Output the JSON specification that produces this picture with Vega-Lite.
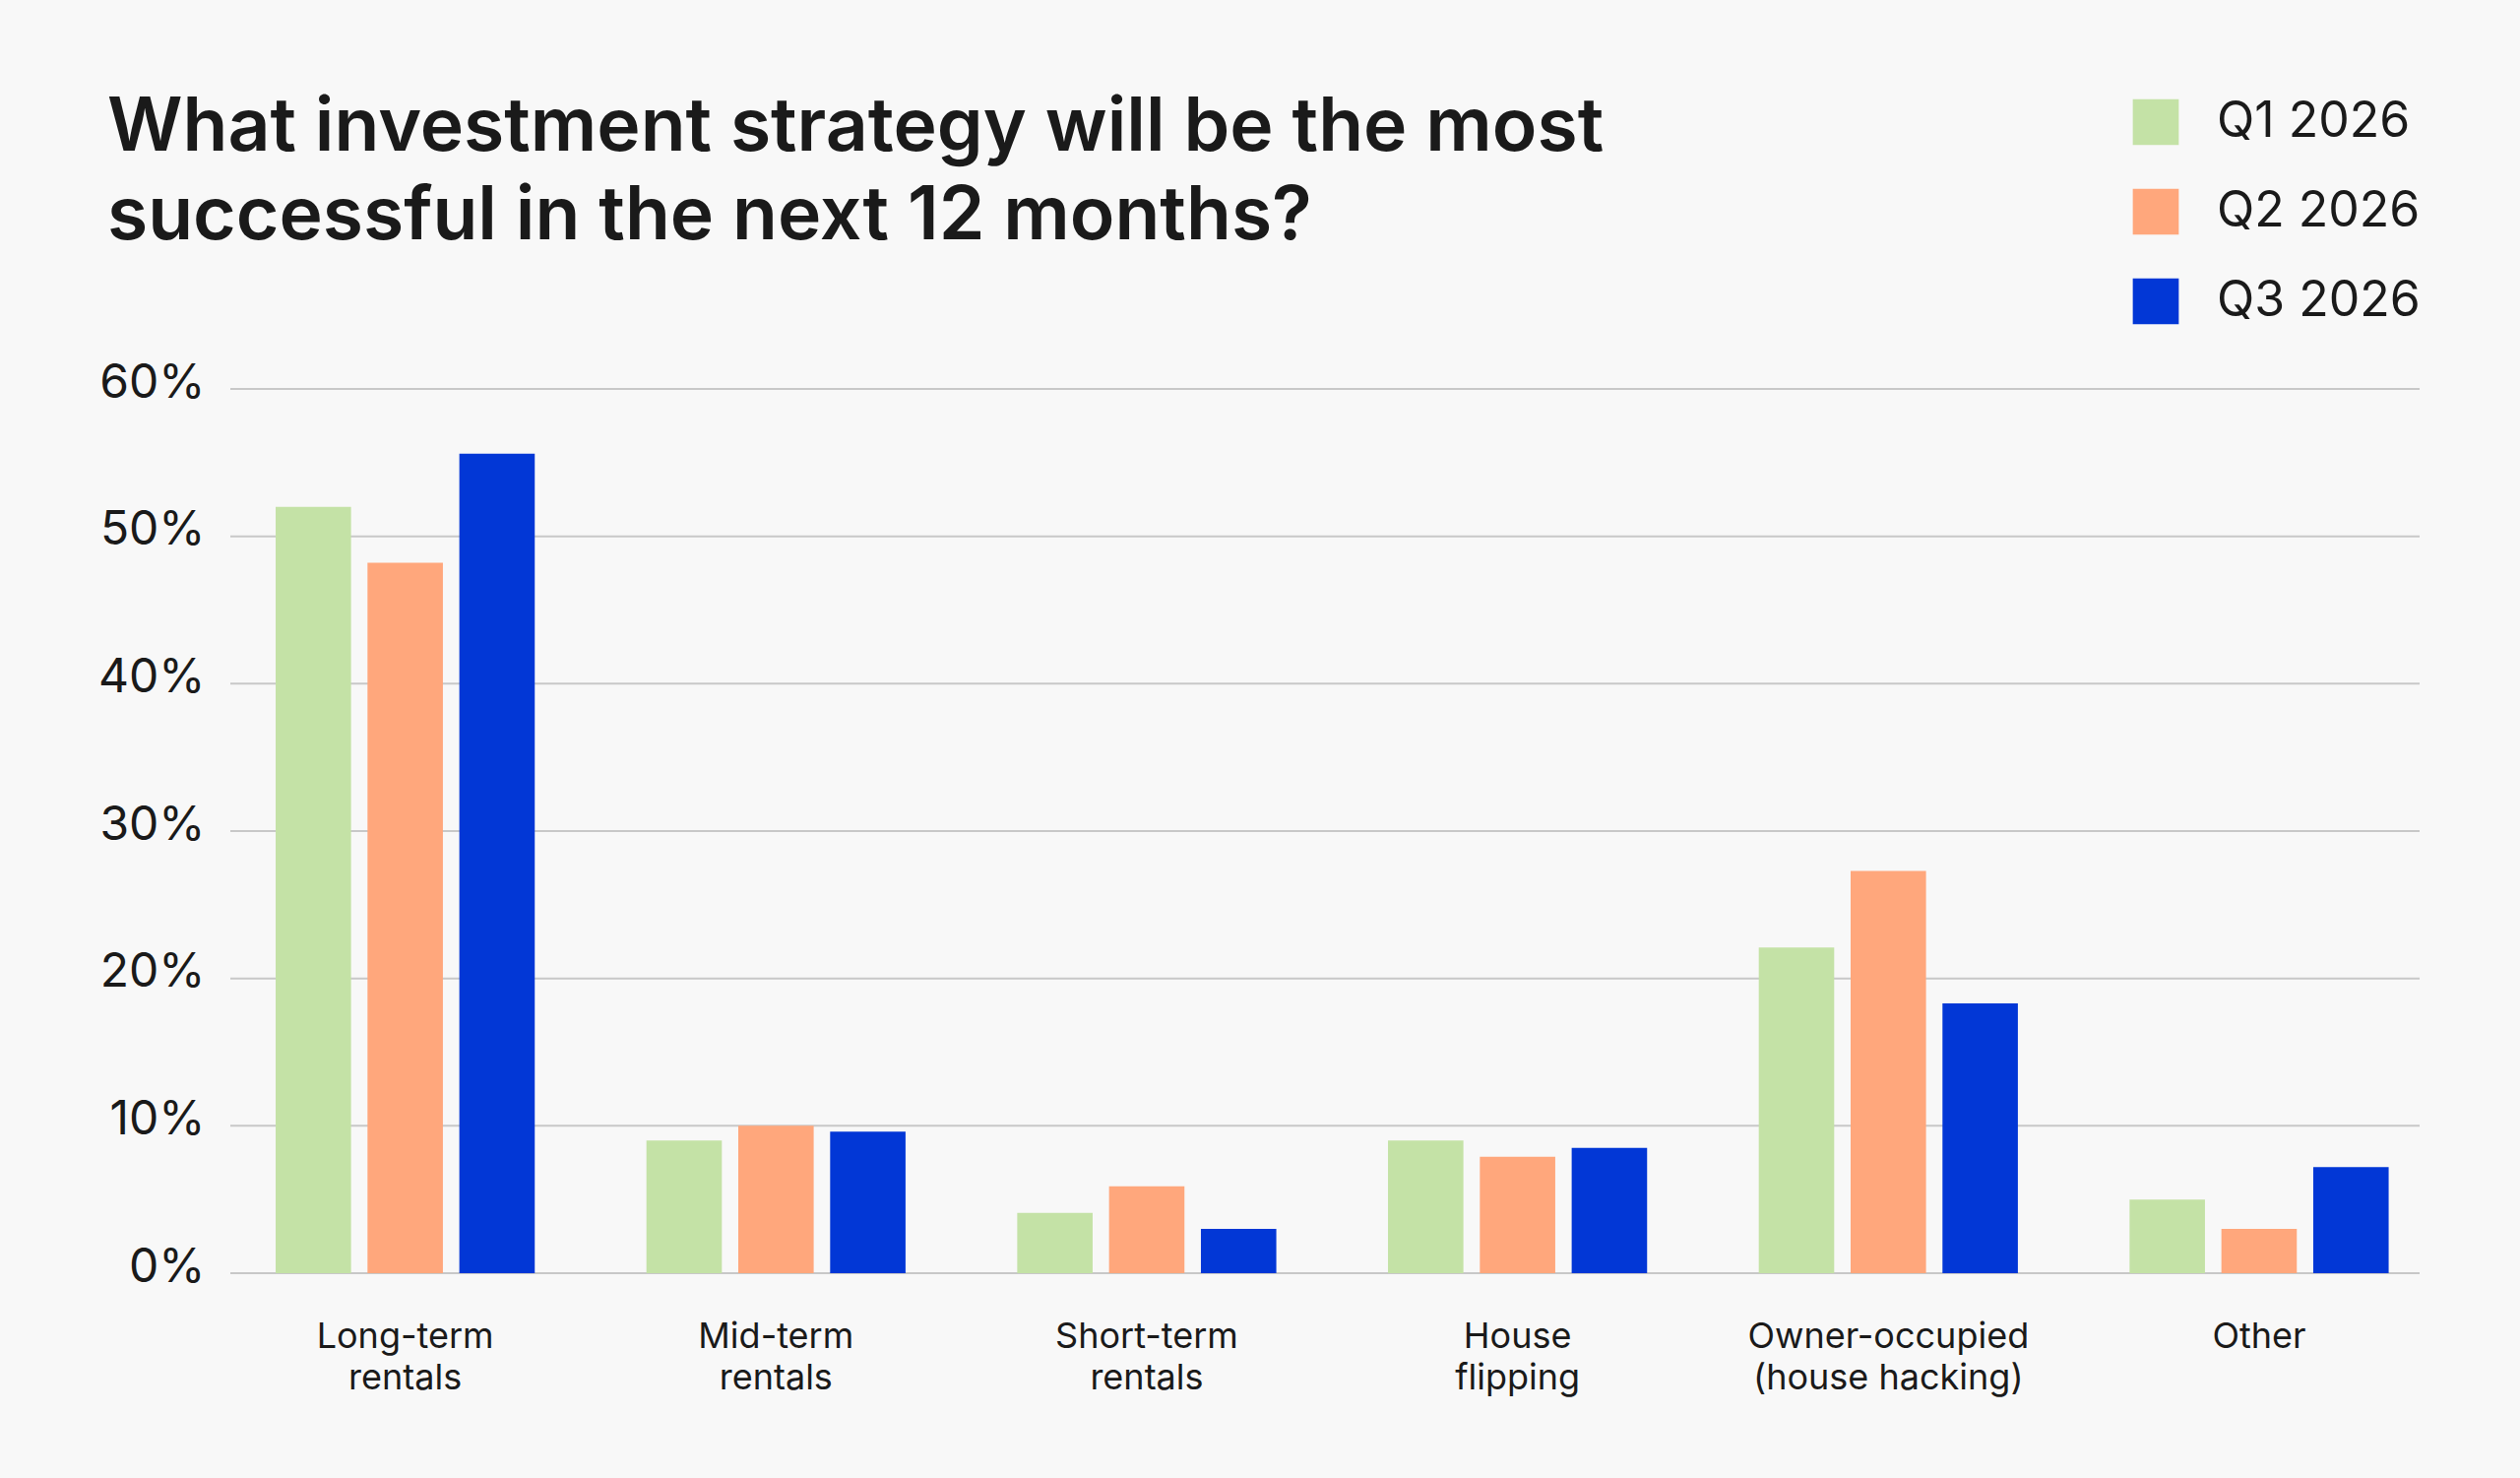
{
  "$schema": "https://vega.github.io/schema/vega-lite/v6.json",
  "autosize": "none",
  "width": 2224,
  "height": 898,
  "padding": {"left": 234, "top": 395, "right": 102, "bottom": 208},
  "background": "#F8F8F8",
  "title": {
    "text": ["What investment strategy will be the most", "successful in the next 12 months?"],
    "anchor": "start",
    "frame": "group",
    "font": "Inter",
    "fontSize": 75,
    "fontWeight": 600,
    "color": "#1A1A1A",
    "lineHeight": 90,
    "dx": -125,
    "dy": 160,
    "offset": 0
  },
  "datasets": {
    "grid": [
      {"level": 0}, {"level": 10}, {"level": 20}, {"level": 30}, {"level": 40}, {"level": 50}, {"level": 60}
    ],
    "survey": [
      {"strategy": "Long-term rentals", "quarter": "Q1 2026", "share": 52.0},
      {"strategy": "Long-term rentals", "quarter": "Q2 2026", "share": 48.2},
      {"strategy": "Long-term rentals", "quarter": "Q3 2026", "share": 55.6},
      {"strategy": "Mid-term rentals", "quarter": "Q1 2026", "share": 9.0},
      {"strategy": "Mid-term rentals", "quarter": "Q2 2026", "share": 10.0},
      {"strategy": "Mid-term rentals", "quarter": "Q3 2026", "share": 9.6},
      {"strategy": "Short-term rentals", "quarter": "Q1 2026", "share": 4.1},
      {"strategy": "Short-term rentals", "quarter": "Q2 2026", "share": 5.9},
      {"strategy": "Short-term rentals", "quarter": "Q3 2026", "share": 3.0},
      {"strategy": "House flipping", "quarter": "Q1 2026", "share": 9.0},
      {"strategy": "House flipping", "quarter": "Q2 2026", "share": 7.9},
      {"strategy": "House flipping", "quarter": "Q3 2026", "share": 8.5},
      {"strategy": "Owner-occupied (house hacking)", "quarter": "Q1 2026", "share": 22.1},
      {"strategy": "Owner-occupied (house hacking)", "quarter": "Q2 2026", "share": 27.3},
      {"strategy": "Owner-occupied (house hacking)", "quarter": "Q3 2026", "share": 18.3},
      {"strategy": "Other", "quarter": "Q1 2026", "share": 5.0},
      {"strategy": "Other", "quarter": "Q2 2026", "share": 3.0},
      {"strategy": "Other", "quarter": "Q3 2026", "share": 7.2}
    ]
  },
  "layer": [
    {
      "data": {"name": "grid"},
      "mark": {"type": "rule", "color": "#C8C8C8", "strokeWidth": 2},
      "encoding": {
        "y": {
          "field": "level",
          "type": "quantitative",
          "scale": {"domain": [0, 60], "nice": false},
          "axis": {
            "title": null,
            "values": [0, 10, 20, 30, 40, 50, 60],
            "labelExpr": "datum.value + '%'",
            "domain": false,
            "ticks": false,
            "tickSize": 0,
            "grid": false,
            "labelPadding": 26,
            "labelFont": "Inter",
            "labelFontSize": 48,
            "labelColor": "#1A1A1A",
            "labelBaseline": "alphabetic",
            "labelOffset": 8
          }
        }
      }
    },
    {
      "data": {"name": "survey"},
      "mark": {"type": "bar"},
      "encoding": {
        "x": {
          "field": "strategy",
          "type": "nominal",
          "sort": ["Long-term rentals", "Mid-term rentals", "Short-term rentals", "House flipping", "Owner-occupied (house hacking)", "Other"],
          "scale": {"range": [-10.7, 2249.3], "paddingInner": 0, "paddingOuter": 0},
          "axis": {
            "title": null,
            "domain": false,
            "ticks": false,
            "tickSize": 0,
            "grid": false,
            "labelAngle": 0,
            "labelFont": "Inter",
            "labelFontSize": 36,
            "labelColor": "#1A1A1A",
            "labelBaseline": "top",
            "labelLineHeight": 42,
            "labelPadding": 47,
            "labelLimit": 600,
            "labelExpr": "indexof(datum.label, ' ') > 0 ? [substring(datum.label, 0, indexof(datum.label, ' ')), substring(datum.label, indexof(datum.label, ' ') + 1)] : datum.label"
          }
        },
        "xOffset": {
          "field": "quarter",
          "type": "nominal",
          "scale": {"paddingInner": 0.179, "paddingOuter": 0.608}
        },
        "y": {
          "field": "share",
          "type": "quantitative",
          "scale": {"domain": [0, 60], "nice": false},
          "axis": {
            "title": null,
            "values": [0, 10, 20, 30, 40, 50, 60],
            "labelExpr": "datum.value + '%'",
            "domain": false,
            "ticks": false,
            "tickSize": 0,
            "grid": false,
            "labelPadding": 26,
            "labelFont": "Inter",
            "labelFontSize": 48,
            "labelColor": "#1A1A1A",
            "labelBaseline": "alphabetic",
            "labelOffset": 8
          }
        },
        "color": {
          "field": "quarter",
          "type": "nominal",
          "scale": {"domain": ["Q1 2026", "Q2 2026", "Q3 2026"], "range": ["#C4E2A6", "#FFA77C", "#0237D6"]},
          "legend": {
            "title": null,
            "orient": "none",
            "legendX": 1931,
            "legendY": -296,
            "symbolType": "square",
            "symbolSize": 2180,
            "symbolStrokeWidth": 0,
            "symbolOpacity": 1,
            "labelFont": "Inter",
            "labelFontSize": 50,
            "labelColor": "#1A1A1A",
            "labelOffset": 37,
            "rowPadding": 41,
            "labelLimit": 400
          }
        }
      }
    }
  ],
  "resolve": {"axis": {"y": "shared"}},
  "config": {
    "view": {"stroke": null},
    "font": "Inter"
  }
}
